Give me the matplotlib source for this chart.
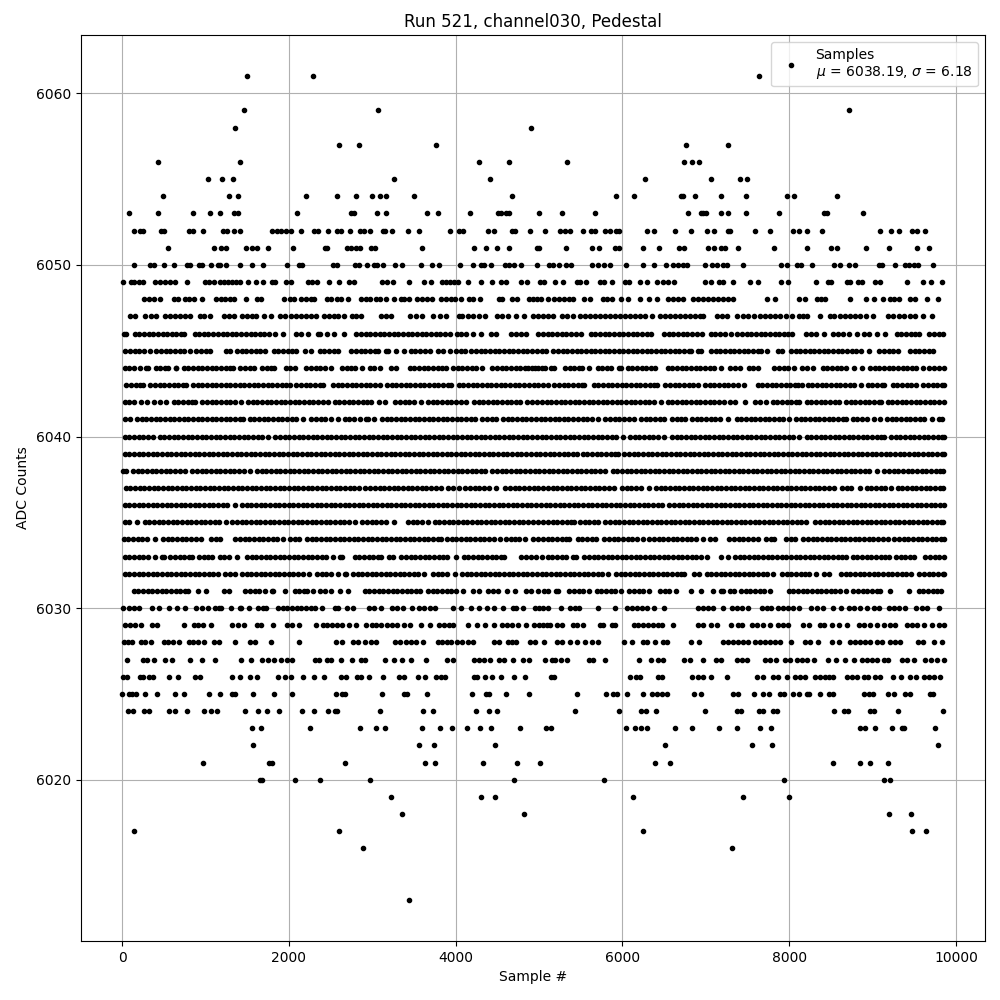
import numpy as np
import matplotlib
matplotlib.use("Agg")
import matplotlib.pyplot as plt

# sample positions, one list per ADC level
X_6061 = [1496, 2288, 7644]
X_6059 = [1460, 3068, 8712]
X_6058 = [1352, 4904]
X_6057 = [2600, 2840, 3764, 6768, 7272]
X_6056 = [428, 1412, 4280, 4640, 5340, 6744, 6832, 6924]
X_6055 = [1028, 1196, 1328, 3260, 4412, 6276, 7068, 7416, 7500]
X_6054 = [488, 1280, 1388, 2204, 2580, 2808, 2996, 3096, 3164, 3500, 4676, 5928, 6144, 6700, 6732, 6876, 7188, 7488, 7980, 8064, 8568]
X_6053 = [80, 428, 848, 1052, 1172, 1348, 1388, 2096, 2740, 2780, 3056, 3164, 3656, 3788, 4172, 4508, 4540, 4604, 4636, 5004, 5280, 5676, 6792, 6940, 6972, 7004, 7188, 7272, 7488, 7884, 8420, 8452, 8880]
X_6052 = [140, 212, 252, 468, 508, 800, 848, 968, 1208, 1260, 1340, 1412, 1796, 1860, 1908, 1960, 2024, 2144, 2300, 2348, 2468, 2580, 2620, 2732, 2852, 2900, 2972, 3132, 3152, 3236, 3428, 3560, 3932, 4044, 4084, 4388, 4460, 4680, 4716, 4892, 5076, 5256, 5308, 5376, 5532, 5628, 5672, 5796, 5852, 5924, 5964, 6300, 6384, 6636, 6828, 7020, 7104, 7272, 7296, 7596, 7776, 8052, 8124, 8220, 8388, 9084, 9216, 9312, 9468, 9532, 9624]
X_6051 = [548, 1100, 1184, 1244, 1484, 1556, 1616, 1748, 2048, 2432, 2452, 2696, 2744, 2804, 2852, 2984, 3028, 3596, 4220, 4364, 4496, 4640, 4972, 5004, 5328, 5640, 5724, 5916, 5956, 6252, 6444, 6684, 6744, 7024, 7104, 7188, 7236, 7392, 7824, 8220, 8496, 8568, 8916, 9192, 9528, 9672]
X_6050 = [140, 332, 380, 500, 620, 780, 810, 920, 960, 1072, 1148, 1180, 1252, 1412, 1556, 1692, 1976, 2120, 2156, 2528, 2572, 2792, 2840, 2936, 3020, 3052, 3124, 3268, 3356, 3584, 3716, 3800, 4052, 4208, 4300, 4340, 4424, 4592, 4640, 4700, 4788, 4980, 5124, 5164, 5244, 5324, 5388, 5640, 5712, 5780, 5852, 6048, 6244, 6384, 6520, 6612, 6672, 6732, 6780, 6992, 7072, 7132, 7212, 7260, 7452, 7908, 7980, 8100, 8148, 8272, 8532, 8604, 8712, 8784, 9072, 9112, 9264, 9384, 9432, 9492, 9540, 9720]
X_6049 = [8, 108, 148, 200, 248, 400, 452, 520, 572, 640, 776, 992, 1040, 1100, 1172, 1220, 1268, 1320, 1372, 1420, 1508, 1604, 1684, 1796, 1836, 1960, 2020, 2228, 2276, 2332, 2480, 2600, 2720, 2780, 3116, 3180, 3248, 3440, 3620, 3704, 3836, 3884, 3932, 3980, 4028, 4152, 4304, 4432, 4548, 4600, 4784, 4852, 5012, 5064, 5196, 5292, 5460, 5492, 5568, 5732, 5780, 5880, 6036, 6084, 6216, 6300, 6420, 6484, 6552, 6624, 6996, 7068, 7164, 7212, 7332, 7536, 7632, 7908, 7992, 8316, 8464, 8500, 8692, 8732, 8820, 8876, 9024, 9092, 9412, 9604, 9696, 9828]
X_6048 = [260, 320, 380, 460, 620, 672, 760, 808, 868, 960, 1132, 1188, 1240, 1292, 1348, 1484, 1620, 1660, 1940, 2008, 2060, 2148, 2200, 2260, 2300, 2460, 2508, 2572, 2620, 2708, 2860, 2920, 2972, 3040, 3092, 3160, 3260, 3340, 3380, 3440, 3540, 3600, 3660, 3716, 3820, 3880, 3940, 3992, 4068, 4160, 4208, 4292, 4520, 4560, 4680, 4740, 4880, 4924, 4972, 5020, 5112, 5180, 5244, 5300, 5364, 5404, 5544, 5612, 5764, 5820, 5872, 5980, 6072, 6212, 6324, 6420, 6552, 6612, 6672, 6724, 6844, 6912, 6972, 7032, 7092, 7152, 7212, 7272, 7324, 7740, 7832, 8124, 8196, 8332, 8380, 8432, 8732, 8916, 9020, 9120, 9204, 9252, 9312, 9452, 9512, 9648, 9780]
X_6047 = [100, 160, 272, 352, 408, 520, 580, 640, 700, 760, 820, 932, 988, 1060, 1220, 1280, 1340, 1440, 1500, 1560, 1608, 1700, 1780, 1892, 1948, 2020, 2080, 2140, 2200, 2260, 2320, 2420, 2480, 2540, 2592, 2660, 2760, 2808, 2868, 3100, 3160, 3220, 3452, 3524, 3600, 3728, 3812, 3884, 4040, 4080, 4148, 4212, 4280, 4352, 4500, 4560, 4628, 4720, 4820, 4932, 4992, 5052, 5112, 5172, 5272, 5332, 5412, 5492, 5552, 5612, 5672, 5732, 5792, 5852, 5912, 5972, 6032, 6092, 6152, 6212, 6272, 6352, 6452, 6512, 6572, 6632, 6692, 6752, 6812, 6872, 6932, 6972, 7132, 7192, 7252, 7380, 7444, 7512, 7580, 7652, 7712, 7772, 7832, 7892, 7964, 8032, 8124, 8172, 8220, 8364, 8484, 8540, 8612, 8672, 8732, 8792, 8852, 8924, 9004, 9180, 9244, 9312, 9372, 9444, 9512, 9604, 9712]
X_6046 = [20, 50, 150, 205, 262, 318, 372, 430, 485, 540, 598, 652, 708, 740, 870, 925, 982, 1036, 1092, 1148, 1205, 1260, 1315, 1372, 1428, 1482, 1540, 1596, 1650, 1705, 1762, 1830, 1928, 2090, 2148, 2230, 2350, 2370, 2460, 2540, 2660, 2810, 2866, 2922, 2978, 3034, 3090, 3146, 3200, 3258, 3312, 3368, 3424, 3480, 3536, 3592, 3648, 3704, 3760, 3816, 3872, 3930, 4020, 4060, 4120, 4210, 4300, 4430, 4490, 4670, 4726, 4782, 4840, 4990, 5046, 5102, 5158, 5214, 5270, 5326, 5382, 5438, 5500, 5620, 5676, 5732, 5788, 5844, 5900, 5956, 6012, 6068, 6124, 6180, 6236, 6292, 6340, 6500, 6556, 6612, 6668, 6724, 6780, 6836, 6892, 6960, 7060, 7116, 7172, 7228, 7300, 7380, 7436, 7492, 7548, 7604, 7660, 7716, 7772, 7828, 7884, 7940, 7990, 8040, 8200, 8260, 8320, 8412, 8520, 8580, 8640, 8720, 8812, 8900, 8960, 9052, 9152, 9290, 9346, 9402, 9458, 9514, 9560, 9680, 9736, 9792, 9850]
X_6045 = [40, 96, 152, 208, 262, 332, 410, 466, 522, 578, 634, 690, 746, 810, 890, 946, 1002, 1050, 1250, 1290, 1378, 1434, 1490, 1546, 1602, 1658, 1710, 1818, 1874, 1930, 1986, 2042, 2090, 2190, 2270, 2370, 2426, 2482, 2538, 2590, 2750, 2806, 2862, 2918, 2974, 3030, 3070, 3170, 3190, 3280, 3380, 3462, 3518, 3574, 3630, 3690, 3790, 3846, 3930, 4010, 4066, 4110, 4190, 4246, 4302, 4358, 4414, 4470, 4526, 4582, 4638, 4694, 4750, 4806, 4862, 4918, 4974, 5030, 5086, 5170, 5226, 5282, 5338, 5394, 5450, 5506, 5562, 5618, 5674, 5730, 5786, 5842, 5898, 5954, 6010, 6066, 6122, 6178, 6234, 6290, 6346, 6402, 6458, 6514, 6570, 6626, 6682, 6738, 6794, 6822, 6910, 6942, 7062, 7118, 7174, 7230, 7286, 7342, 7398, 7454, 7510, 7566, 7622, 7662, 7732, 7862, 7910, 8022, 8078, 8134, 8190, 8246, 8302, 8358, 8414, 8470, 8526, 8582, 8638, 8694, 8750, 8806, 8862, 8962, 9082, 9138, 9194, 9250, 9302, 9450, 9506, 9562, 9618, 9674, 9722]
X_6044 = [30, 86, 142, 210, 290, 310, 402, 458, 514, 550, 642, 650, 738, 794, 850, 906, 962, 1018, 1074, 1130, 1186, 1242, 1298, 1330, 1418, 1474, 1530, 1582, 1678, 1734, 1790, 1818, 1962, 2018, 2070, 2210, 2266, 2322, 2378, 2434, 2502, 2638, 2694, 2750, 2790, 2880, 2970, 3026, 3090, 3230, 3290, 3450, 3506, 3562, 3618, 3674, 3730, 3786, 3842, 3890, 3970, 4026, 4082, 4138, 4194, 4250, 4318, 4442, 4498, 4554, 4610, 4666, 4722, 4778, 4834, 4870, 4912, 4952, 4992, 5032, 5072, 5142, 5174, 5310, 5366, 5422, 5478, 5510, 5596, 5702, 5758, 5814, 5862, 5954, 5982, 6062, 6118, 6174, 6230, 6286, 6342, 6394, 6542, 6598, 6654, 6710, 6766, 6822, 6878, 6934, 6990, 7046, 7102, 7182, 7294, 7350, 7410, 7514, 7570, 7622, 7822, 7878, 7934, 7990, 8062, 8154, 8210, 8290, 8402, 8458, 8514, 8570, 8626, 8682, 8774, 8872, 8970, 9026, 9082, 9138, 9194, 9250, 9306, 9362, 9418, 9474, 9522, 9604, 9682, 9738, 9794, 9854]
X_6043 = [50, 106, 162, 218, 250, 338, 394, 450, 506, 562, 618, 674, 730, 770, 850, 906, 962, 1018, 1074, 1130, 1186, 1242, 1298, 1354, 1410, 1466, 1522, 1578, 1634, 1690, 1746, 1802, 1858, 1914, 1970, 2010, 2090, 2146, 2202, 2258, 2314, 2370, 2410, 2530, 2586, 2642, 2698, 2754, 2810, 2866, 2922, 2978, 3034, 3090, 3178, 3234, 3290, 3346, 3402, 3458, 3514, 3570, 3626, 3682, 3738, 3794, 3850, 3906, 3950, 4038, 4094, 4150, 4206, 4262, 4318, 4374, 4430, 4486, 4542, 4598, 4654, 4710, 4766, 4822, 4878, 4934, 4990, 5050, 5102, 5182, 5238, 5294, 5350, 5406, 5462, 5518, 5542, 5654, 5710, 5766, 5822, 5878, 5934, 5990, 6046, 6102, 6158, 6214, 6270, 6326, 6382, 6414, 6514, 6570, 6626, 6682, 6738, 6794, 6850, 6902, 6990, 7046, 7102, 7158, 7214, 7270, 7326, 7382, 7454, 7622, 7678, 7734, 7790, 7846, 7902, 7958, 8014, 8070, 8102, 8152, 8222, 8278, 8334, 8390, 8446, 8502, 8558, 8614, 8670, 8726, 8782, 8862, 8942, 8998, 9054, 9110, 9142, 9242, 9298, 9354, 9410, 9466, 9522, 9610, 9666, 9722, 9778, 9834, 9856]
X_6042 = [30, 86, 142, 230, 302, 382, 458, 530, 618, 674, 730, 786, 842, 870, 962, 1018, 1074, 1130, 1186, 1242, 1298, 1354, 1422, 1510, 1566, 1622, 1678, 1734, 1790, 1846, 1902, 1958, 2014, 2070, 2126, 2182, 2238, 2294, 2350, 2406, 2470, 2550, 2606, 2662, 2718, 2774, 2830, 2886, 2942, 2990, 3078, 3150, 3278, 3334, 3390, 3446, 3502, 3582, 3670, 3726, 3782, 3838, 3894, 3950, 4006, 4062, 4122, 4222, 4278, 4334, 4390, 4446, 4502, 4558, 4614, 4670, 4726, 4778, 4862, 4922, 4978, 5034, 5090, 5146, 5202, 5258, 5314, 5370, 5426, 5482, 5538, 5594, 5650, 5706, 5762, 5818, 5874, 5930, 5986, 6042, 6098, 6154, 6210, 6266, 6322, 6378, 6462, 6542, 6598, 6654, 6710, 6766, 6822, 6878, 6934, 6990, 7046, 7102, 7158, 7214, 7290, 7350, 7476, 7594, 7650, 7722, 7802, 7858, 7914, 7970, 8026, 8082, 8122, 8210, 8266, 8322, 8378, 8434, 8490, 8546, 8602, 8682, 8738, 8794, 8850, 8906, 8962, 9018, 9074, 9102, 9182, 9238, 9294, 9350, 9406, 9462, 9518, 9574, 9630, 9686, 9742, 9798, 9854]
X_6041 = [30, 90, 178, 234, 290, 346, 402, 458, 514, 570, 626, 682, 738, 794, 850, 906, 962, 1018, 1074, 1130, 1186, 1242, 1298, 1354, 1410, 1450, 1530, 1586, 1642, 1698, 1754, 1810, 1866, 1922, 1978, 2034, 2090, 2170, 2270, 2326, 2382, 2438, 2510, 2588, 2670, 2726, 2782, 2850, 2930, 2950, 3020, 3118, 3174, 3230, 3286, 3342, 3398, 3454, 3510, 3566, 3622, 3678, 3734, 3790, 3846, 3902, 3958, 4014, 4070, 4126, 4182, 4230, 4322, 4378, 4434, 4490, 4570, 4626, 4682, 4738, 4794, 4850, 4906, 4962, 5018, 5074, 5130, 5186, 5242, 5298, 5342, 5410, 5466, 5522, 5578, 5634, 5710, 5794, 5850, 5906, 5962, 6018, 6074, 6142, 6222, 6278, 6334, 6390, 6446, 6494, 6594, 6650, 6706, 6754, 6834, 6890, 6946, 7002, 7058, 7114, 7170, 7262, 7370, 7426, 7482, 7538, 7594, 7650, 7706, 7762, 7818, 7874, 7930, 7994, 8082, 8138, 8194, 8250, 8306, 8362, 8418, 8474, 8530, 8586, 8642, 8682, 8762, 8818, 8874, 8930, 9014, 9090, 9174, 9230, 9286, 9342, 9398, 9454, 9510, 9566, 9622, 9710, 9802, 9830]
X_6040 = [30, 86, 142, 198, 254, 310, 370, 450, 506, 562, 618, 674, 730, 786, 842, 898, 954, 1010, 1066, 1122, 1178, 1234, 1290, 1346, 1402, 1458, 1514, 1570, 1626, 1682, 1750, 1838, 1894, 1950, 2006, 2062, 2118, 2174, 2230, 2286, 2342, 2398, 2454, 2510, 2566, 2622, 2678, 2734, 2790, 2846, 2902, 2958, 3014, 3070, 3126, 3182, 3238, 3294, 3350, 3406, 3462, 3518, 3574, 3630, 3686, 3742, 3798, 3854, 3910, 3966, 4022, 4078, 4134, 4190, 4246, 4302, 4358, 4414, 4470, 4526, 4582, 4638, 4694, 4750, 4806, 4862, 4918, 4974, 5030, 5086, 5142, 5198, 5254, 5310, 5366, 5422, 5478, 5534, 5590, 5646, 5702, 5758, 5814, 5870, 5926, 6002, 6090, 6146, 6202, 6258, 6314, 6370, 6426, 6502, 6594, 6650, 6706, 6762, 6818, 6874, 6930, 6986, 7042, 7098, 7154, 7210, 7266, 7322, 7378, 7434, 7490, 7546, 7602, 7658, 7714, 7770, 7826, 7882, 7938, 7994, 8050, 8122, 8210, 8266, 8322, 8378, 8434, 8490, 8546, 8602, 8658, 8714, 8770, 8826, 8882, 8938, 8994, 9050, 9106, 9142, 9222, 9278, 9334, 9390, 9446, 9502, 9558, 9614, 9670, 9726, 9782, 9838, 9856]
X_6039 = [30, 86, 142, 198, 254, 310, 366, 422, 478, 534, 590, 646, 702, 758, 814, 870, 926, 982, 1038, 1094, 1150, 1206, 1262, 1318, 1374, 1430, 1486, 1542, 1598, 1654, 1710, 1766, 1822, 1878, 1934, 1990, 2046, 2102, 2158, 2214, 2270, 2326, 2382, 2438, 2494, 2550, 2606, 2662, 2718, 2774, 2830, 2886, 2942, 2998, 3054, 3110, 3166, 3222, 3278, 3334, 3390, 3446, 3502, 3558, 3614, 3670, 3726, 3782, 3838, 3894, 3950, 4006, 4062, 4118, 4174, 4230, 4286, 4342, 4398, 4454, 4510, 4566, 4622, 4678, 4734, 4790, 4846, 4902, 4958, 5014, 5070, 5126, 5182, 5238, 5294, 5350, 5406, 5454, 5522, 5578, 5634, 5690, 5746, 5802, 5858, 5914, 5942, 6022, 6078, 6134, 6190, 6246, 6302, 6358, 6414, 6470, 6526, 6582, 6638, 6694, 6750, 6806, 6862, 6918, 6974, 7030, 7086, 7142, 7198, 7254, 7310, 7366, 7422, 7478, 7534, 7590, 7646, 7702, 7758, 7814, 7870, 7926, 7982, 8038, 8094, 8150, 8206, 8262, 8318, 8374, 8430, 8486, 8542, 8598, 8654, 8710, 8766, 8822, 8878, 8934, 8990, 9046, 9102, 9158, 9214, 9270, 9326, 9382, 9438, 9494, 9550, 9606, 9662, 9718, 9774, 9830, 9856]
X_6038 = [10, 50, 130, 186, 242, 298, 354, 410, 466, 522, 578, 634, 690, 758, 842, 898, 954, 1010, 1066, 1122, 1178, 1234, 1290, 1346, 1402, 1458, 1530, 1618, 1674, 1730, 1786, 1842, 1898, 1954, 2010, 2066, 2122, 2178, 2234, 2290, 2346, 2402, 2458, 2514, 2570, 2626, 2682, 2738, 2794, 2850, 2906, 2962, 3018, 3074, 3130, 3186, 3242, 3298, 3354, 3410, 3466, 3522, 3578, 3634, 3690, 3746, 3802, 3858, 3914, 3970, 4026, 4082, 4138, 4194, 4250, 4306, 4350, 4442, 4498, 4554, 4610, 4666, 4722, 4778, 4834, 4890, 4946, 5002, 5058, 5114, 5170, 5226, 5282, 5338, 5394, 5450, 5506, 5562, 5618, 5674, 5730, 5790, 5882, 5938, 5994, 6050, 6106, 6162, 6218, 6274, 6330, 6386, 6442, 6498, 6554, 6610, 6666, 6722, 6778, 6834, 6890, 6946, 7002, 7058, 7114, 7170, 7226, 7282, 7338, 7394, 7450, 7506, 7562, 7618, 7674, 7730, 7786, 7842, 7898, 7954, 8010, 8066, 8122, 8178, 8234, 8290, 8346, 8402, 8458, 8514, 8570, 8626, 8682, 8738, 8794, 8850, 8906, 8962, 9050, 9142, 9198, 9254, 9310, 9366, 9422, 9478, 9534, 9590, 9646, 9702, 9758, 9814, 9850]
X_6037 = [42, 98, 154, 210, 266, 322, 378, 434, 490, 546, 602, 658, 714, 770, 826, 882, 938, 994, 1050, 1106, 1162, 1218, 1274, 1330, 1386, 1442, 1498, 1554, 1610, 1666, 1722, 1778, 1834, 1890, 1946, 2002, 2058, 2114, 2170, 2226, 2282, 2338, 2394, 2450, 2506, 2562, 2618, 2674, 2730, 2786, 2842, 2910, 2978, 3034, 3090, 3146, 3202, 3258, 3314, 3370, 3426, 3482, 3538, 3594, 3650, 3706, 3762, 3830, 3910, 3966, 4038, 4118, 4174, 4230, 4286, 4342, 4398, 4490, 4598, 4654, 4710, 4766, 4822, 4878, 4934, 4990, 5050, 5106, 5162, 5218, 5274, 5330, 5386, 5442, 5498, 5554, 5610, 5666, 5722, 5778, 5834, 5902, 5994, 6050, 6106, 6162, 6218, 6314, 6402, 6458, 6514, 6570, 6626, 6682, 6738, 6794, 6850, 6906, 6962, 7018, 7074, 7130, 7186, 7242, 7298, 7354, 7410, 7466, 7522, 7578, 7634, 7690, 7746, 7802, 7858, 7914, 7970, 8026, 8082, 8138, 8194, 8250, 8306, 8362, 8418, 8474, 8534, 8634, 8690, 8746, 8846, 8930, 8986, 9042, 9098, 9154, 9222, 9302, 9358, 9414, 9470, 9526, 9582, 9638, 9694, 9750, 9806, 9842]
X_6036 = [30, 86, 142, 198, 254, 310, 366, 422, 478, 534, 590, 646, 702, 758, 814, 870, 926, 982, 1038, 1094, 1150, 1206, 1262, 1350, 1438, 1494, 1550, 1606, 1662, 1718, 1774, 1830, 1886, 1942, 1998, 2054, 2110, 2166, 2222, 2278, 2334, 2390, 2446, 2502, 2558, 2614, 2670, 2726, 2782, 2838, 2894, 2950, 3006, 3062, 3118, 3174, 3230, 3286, 3342, 3398, 3454, 3510, 3566, 3622, 3678, 3734, 3790, 3846, 3902, 3958, 4014, 4070, 4126, 4182, 4238, 4294, 4350, 4406, 4462, 4518, 4574, 4630, 4686, 4742, 4798, 4854, 4910, 4966, 5022, 5078, 5134, 5190, 5246, 5302, 5358, 5414, 5470, 5526, 5582, 5638, 5694, 5750, 5806, 5862, 5918, 5974, 6030, 6086, 6142, 6198, 6254, 6310, 6366, 6422, 6474, 6562, 6618, 6674, 6730, 6786, 6842, 6898, 6954, 7010, 7066, 7122, 7178, 7234, 7290, 7346, 7402, 7458, 7514, 7570, 7626, 7682, 7738, 7794, 7850, 7906, 7962, 8018, 8074, 8130, 8186, 8242, 8298, 8354, 8410, 8466, 8522, 8578, 8634, 8690, 8746, 8802, 8858, 8914, 8970, 9026, 9082, 9138, 9194, 9250, 9306, 9362, 9418, 9474, 9530, 9586, 9642, 9698, 9754, 9810, 9854]
X_6035 = [30, 86, 178, 270, 326, 382, 438, 494, 550, 606, 662, 718, 774, 830, 886, 942, 998, 1054, 1110, 1166, 1250, 1322, 1378, 1434, 1490, 1546, 1602, 1658, 1714, 1770, 1826, 1882, 1938, 1994, 2050, 2106, 2162, 2218, 2274, 2330, 2386, 2442, 2498, 2554, 2610, 2666, 2722, 2790, 2882, 2938, 2994, 3050, 3106, 3162, 3262, 3430, 3486, 3542, 3598, 3670, 3750, 3806, 3862, 3918, 3974, 4030, 4086, 4142, 4198, 4254, 4310, 4366, 4422, 4478, 4534, 4590, 4646, 4702, 4758, 4814, 4870, 4926, 4982, 5050, 5106, 5162, 5218, 5274, 5330, 5386, 5414, 5490, 5546, 5602, 5658, 5710, 5794, 5850, 5906, 5962, 6018, 6074, 6130, 6186, 6242, 6298, 6354, 6410, 6466, 6522, 6578, 6634, 6690, 6746, 6802, 6858, 6914, 6970, 7026, 7082, 7138, 7194, 7250, 7306, 7362, 7418, 7474, 7530, 7586, 7642, 7698, 7754, 7810, 7866, 7922, 7978, 8034, 8090, 8146, 8202, 8312, 8370, 8426, 8482, 8538, 8594, 8650, 8706, 8762, 8818, 8874, 8930, 8986, 9042, 9098, 9154, 9210, 9266, 9322, 9378, 9434, 9490, 9546, 9602, 9658, 9714, 9770, 9826, 9850]
X_6034 = [20, 76, 132, 188, 244, 300, 390, 490, 546, 602, 658, 714, 770, 826, 882, 950, 1068, 1124, 1180, 1358, 1414, 1470, 1526, 1582, 1638, 1694, 1750, 1806, 1862, 1930, 2018, 2074, 2122, 2218, 2274, 2330, 2386, 2442, 2498, 2554, 2610, 2666, 2722, 2778, 2834, 2890, 2946, 3002, 3058, 3114, 3170, 3226, 3282, 3338, 3394, 3450, 3506, 3562, 3618, 3674, 3730, 3786, 3822, 3898, 3954, 4010, 4066, 4122, 4178, 4234, 4290, 4346, 4402, 4458, 4538, 4600, 4660, 4710, 4766, 4830, 4932, 4992, 5048, 5104, 5160, 5216, 5272, 5328, 5362, 5462, 5518, 5574, 5630, 5682, 5782, 5838, 5894, 5950, 6006, 6062, 6118, 6174, 6242, 6322, 6378, 6434, 6490, 6546, 6602, 6658, 6714, 6770, 6826, 6882, 6962, 7050, 7114, 7282, 7338, 7394, 7450, 7506, 7562, 7632, 7722, 7778, 7822, 7962, 8018, 8074, 8170, 8226, 8282, 8338, 8394, 8450, 8506, 8562, 8618, 8674, 8730, 8786, 8842, 8898, 8954, 9010, 9066, 9122, 9182, 9262, 9318, 9374, 9430, 9486, 9542, 9598, 9654, 9710, 9766, 9822, 9854]
X_6033 = [30, 86, 142, 198, 254, 310, 390, 478, 498, 578, 634, 690, 746, 802, 842, 922, 978, 1034, 1082, 1170, 1226, 1282, 1378, 1498, 1554, 1610, 1666, 1722, 1778, 1834, 1890, 1946, 2002, 2058, 2114, 2170, 2226, 2282, 2338, 2394, 2450, 2530, 2618, 2642, 2790, 2846, 2902, 2958, 3014, 3070, 3102, 3198, 3250, 3350, 3406, 3462, 3518, 3574, 3630, 3686, 3742, 3798, 3854, 3898, 4000, 4098, 4154, 4210, 4266, 4322, 4378, 4434, 4490, 4546, 4582, 4790, 4846, 4902, 4958, 5030, 5102, 5158, 5214, 5270, 5322, 5402, 5442, 5542, 5598, 5654, 5710, 5766, 5822, 5878, 5934, 5990, 6046, 6102, 6158, 6214, 6270, 6326, 6382, 6438, 6494, 6550, 6606, 6662, 6718, 6774, 6830, 6886, 6942, 7020, 7182, 7262, 7350, 7406, 7462, 7518, 7574, 7630, 7686, 7742, 7798, 7854, 7910, 7966, 8022, 8078, 8134, 8190, 8246, 8302, 8358, 8414, 8470, 8526, 8582, 8638, 8682, 8762, 8818, 8874, 8930, 8986, 9042, 9098, 9154, 9202, 9282, 9338, 9394, 9450, 9502, 9634, 9690, 9746, 9802, 9854]
X_6032 = [30, 86, 142, 198, 254, 310, 366, 422, 478, 534, 590, 646, 702, 758, 814, 870, 926, 982, 1038, 1094, 1150, 1230, 1290, 1350, 1438, 1494, 1550, 1606, 1662, 1718, 1774, 1830, 1886, 1942, 1998, 2054, 2110, 2166, 2238, 2338, 2394, 2450, 2506, 2590, 2670, 2690, 2770, 2826, 2882, 2938, 2994, 3050, 3106, 3162, 3218, 3274, 3330, 3386, 3442, 3498, 3554, 3622, 3730, 3786, 3842, 3898, 3990, 4078, 4134, 4190, 4246, 4302, 4358, 4414, 4470, 4526, 4582, 4638, 4694, 4750, 4806, 4862, 4918, 4974, 5030, 5086, 5142, 5198, 5254, 5310, 5366, 5422, 5478, 5534, 5590, 5646, 5702, 5758, 5822, 5922, 5978, 6034, 6090, 6146, 6202, 6258, 6314, 6370, 6426, 6482, 6538, 6594, 6650, 6706, 6734, 6854, 6914, 7010, 7066, 7122, 7178, 7234, 7290, 7346, 7402, 7458, 7514, 7570, 7626, 7682, 7738, 7802, 7914, 7970, 8026, 8082, 8138, 8194, 8242, 8320, 8422, 8482, 8622, 8678, 8734, 8790, 8846, 8902, 8958, 9014, 9070, 9126, 9182, 9238, 9294, 9350, 9406, 9462, 9562, 9618, 9674, 9730, 9786, 9842, 9856]
X_6031 = [138, 194, 250, 306, 362, 418, 474, 530, 586, 642, 698, 754, 790, 908, 1012, 1220, 1284, 1478, 1534, 1590, 1646, 1710, 1802, 1810, 1950, 2070, 2126, 2182, 2222, 2292, 2378, 2434, 2510, 2610, 2710, 2910, 2966, 3022, 3078, 3134, 3190, 3246, 3302, 3358, 3414, 3470, 3526, 3570, 3670, 3726, 3782, 3838, 3894, 3950, 4006, 4090, 4210, 4278, 4390, 4450, 4510, 4620, 4708, 4840, 4900, 4990, 5062, 5102, 5202, 5222, 5362, 5418, 5474, 5530, 5594, 5690, 5746, 5802, 5858, 5914, 5982, 6082, 6138, 6194, 6250, 6322, 6450, 6506, 6562, 6642, 6828, 6942, 7092, 7182, 7202, 7290, 7334, 7422, 7478, 7534, 7590, 7646, 7702, 7774, 7994, 8050, 8106, 8162, 8218, 8274, 8330, 8386, 8442, 8498, 8554, 8610, 8682, 8770, 8826, 8882, 8938, 8994, 9050, 9094, 9212, 9432, 9554, 9610, 9666, 9722, 9778, 9822]
X_6030 = [8, 80, 140, 200, 360, 440, 560, 656, 752, 892, 960, 1032, 1110, 1166, 1182, 1308, 1418, 1430, 1524, 1630, 1686, 1722, 1870, 1926, 1982, 2038, 2094, 2150, 2206, 2262, 2310, 2392, 2550, 2590, 2692, 2768, 2964, 3020, 3104, 3232, 3300, 3372, 3480, 3560, 3620, 3692, 3748, 3968, 4060, 4190, 4280, 4380, 4460, 4570, 4690, 4730, 4812, 4952, 5004, 5052, 5112, 5260, 5372, 5432, 5484, 5712, 5916, 6052, 6112, 6172, 6232, 6292, 6380, 6504, 6912, 6972, 7032, 7092, 7212, 7312, 7372, 7432, 7504, 7672, 7732, 7780, 7872, 7932, 7992, 8052, 8124, 8264, 8332, 8400, 8520, 8620, 8712, 8772, 8852, 8932, 9012, 9072, 9192, 9252, 9312, 9392, 9524, 9592, 9652, 9796]
X_6029 = [40, 100, 160, 232, 360, 420, 740, 860, 908, 968, 1068, 1316, 1388, 1460, 1620, 1660, 1808, 1980, 2040, 2120, 2320, 2408, 2460, 2520, 2580, 2640, 2720, 2808, 2928, 3000, 3048, 3108, 3172, 3240, 3300, 3380, 3452, 3588, 3692, 3800, 3860, 3920, 3972, 4148, 4260, 4352, 4460, 4560, 4620, 4680, 4748, 4844, 4940, 5000, 5052, 5092, 5132, 5212, 5272, 5412, 5452, 5532, 5732, 5772, 5872, 5912, 6140, 6192, 6252, 6312, 6364, 6432, 6472, 6612, 6912, 6972, 7060, 7140, 7308, 7392, 7432, 7552, 7612, 7692, 7772, 7872, 7932, 7992, 8172, 8244, 8372, 8420, 8512, 8592, 8692, 8832, 8892, 8972, 9052, 9132, 9212, 9272, 9412, 9472, 9532, 9612, 9712, 9792, 9856]
X_6028 = [28, 68, 120, 228, 280, 348, 500, 548, 608, 688, 800, 852, 908, 980, 1100, 1160, 1352, 1532, 1588, 1784, 2120, 2564, 2640, 2764, 2828, 2916, 2980, 3040, 3272, 3332, 3400, 3460, 3520, 3608, 3788, 3840, 3900, 3948, 4020, 4080, 4148, 4212, 4460, 4520, 4628, 4680, 4728, 4892, 4948, 5060, 5212, 5272, 5372, 5452, 5552, 5632, 5712, 6024, 6112, 6244, 6292, 6396, 6484, 6532, 6824, 6920, 7212, 7272, 7332, 7392, 7452, 7512, 7592, 7652, 7712, 7772, 7832, 7892, 8020, 8192, 8252, 8340, 8512, 8592, 8732, 8792, 8852, 8912, 8972, 9052, 9112, 9212, 9272, 9332, 9540, 9604, 9740, 9832]
X_6027 = [60, 248, 300, 380, 512, 600, 812, 960, 1112, 1424, 1544, 1680, 1748, 1820, 1900, 1980, 2040, 2308, 2360, 2460, 2508, 2624, 2760, 2860, 2908, 3152, 3260, 3360, 3460, 3644, 3896, 3968, 4220, 4280, 4340, 4412, 4520, 4580, 4684, 4804, 4884, 5076, 5152, 5192, 5260, 5340, 5604, 5644, 5796, 6204, 6348, 6432, 6492, 6744, 6816, 6964, 7124, 7180, 7372, 7432, 7500, 7716, 7772, 7844, 7952, 8012, 8092, 8152, 8212, 8300, 8460, 8556, 8664, 8772, 8876, 8932, 8992, 9052, 9132, 9180, 9352, 9412, 9492, 9628, 9704, 9772, 9856]
X_6026 = [8, 60, 212, 248, 320, 372, 568, 672, 872, 940, 1316, 1420, 1532, 1612, 1868, 1952, 2024, 2172, 2300, 2420, 2628, 2680, 2812, 2860, 2960, 3128, 3320, 3380, 3548, 3632, 3768, 3820, 3868, 4220, 4260, 4352, 4440, 4548, 4704, 4832, 5140, 5180, 6092, 6164, 6212, 6432, 6480, 6840, 6912, 6972, 7068, 7260, 7612, 7692, 7804, 7872, 7980, 8072, 8132, 8192, 8312, 8372, 8432, 8480, 8524, 8692, 8752, 8812, 8892, 8944, 9032, 9092, 9240, 9336, 9444, 9524, 9620, 9672, 9732, 9812]
X_6025 = [0, 80, 120, 168, 280, 424, 632, 740, 1040, 1172, 1320, 1360, 1572, 1820, 2036, 2564, 2640, 2672, 3116, 3380, 3420, 3656, 4196, 4360, 4400, 4604, 4880, 5460, 5808, 5884, 5940, 6060, 6252, 6352, 6412, 6472, 6532, 6864, 6948, 7332, 7392, 7584, 7692, 7764, 7892, 7940, 8052, 8124, 8212, 8244, 8364, 8472, 8524, 8892, 8952, 9004, 9180, 9252, 9392, 9452, 9684, 9724]
X_6024 = [68, 132, 268, 320, 560, 632, 776, 980, 1064, 1136, 1472, 1628, 1736, 1880, 2156, 2300, 2468, 2548, 2580, 3092, 3608, 3728, 4244, 4400, 4496, 5436, 5964, 6228, 6288, 6408, 6996, 7372, 7428, 7644, 7692, 7812, 7860, 8532, 8652, 8704, 8972, 9020, 9300, 9840]
X_6023 = [1556, 1664, 2252, 2852, 3044, 3152, 3596, 3812, 3956, 4136, 4292, 4424, 4772, 5088, 5148, 6048, 6156, 6228, 6300, 6636, 6840, 7164, 7380, 7656, 7788, 8844, 8904, 9024, 9228, 9352, 9380, 9744]
X_6022 = [1568, 3560, 3740, 4472, 6516, 7560, 7800, 9780]
X_6021 = [968, 1764, 1796, 2672, 3632, 3752, 4328, 4736, 5008, 6396, 6576, 8520, 8844, 8964, 9180]
X_6020 = [1648, 1680, 2072, 2372, 2972, 4700, 5784, 7944, 9132, 9204]
X_6019 = [3224, 4304, 4472, 6132, 7452, 8004]
X_6018 = [3356, 4820, 9192, 9456]
X_6017 = [140, 2600, 6252, 9468, 9636]
X_6016 = [2888, 7320]
X_6013 = [3440]

LEVELS = [6061, 6059, 6058, 6057, 6056, 6055, 6054, 6053, 6052, 6051, 6050, 6049, 6048, 6047,
          6046, 6045, 6044, 6043, 6042, 6041, 6040, 6039, 6038, 6037, 6036, 6035, 6034, 6033,
          6032, 6031, 6030, 6029, 6028, 6027, 6026, 6025, 6024, 6023, 6022, 6021, 6020, 6019,
          6018, 6017, 6016, 6013]
ROWS = [X_6061, X_6059, X_6058, X_6057, X_6056, X_6055, X_6054, X_6053, X_6052, X_6051, X_6050, X_6049, X_6048, X_6047,
        X_6046, X_6045, X_6044, X_6043, X_6042, X_6041, X_6040, X_6039, X_6038, X_6037, X_6036, X_6035, X_6034, X_6033,
        X_6032, X_6031, X_6030, X_6029, X_6028, X_6027, X_6026, X_6025, X_6024, X_6023, X_6022, X_6021, X_6020, X_6019,
        X_6018, X_6017, X_6016, X_6013]

MEAN = 6038.19
SIGMA = 6.18

x = np.concatenate([np.array(r, dtype=float) for r in ROWS])
y = np.concatenate([np.full(len(r), lv) for lv, r in zip(LEVELS, ROWS)])

fig, ax = plt.subplots(figsize=(10, 10), dpi=100)
ax.plot(x, y, "k.", label=f"Samples\n$\\mu$ = {MEAN:.2f}, $\\sigma$ = {SIGMA:.2f}")
ax.set_title("Run 521, channel030, Pedestal")
ax.set_xlabel("Sample #")
ax.set_ylabel("ADC Counts")
ax.grid(True)
ax.legend(loc="upper right")
# axes box as measured on the reference
fig.subplots_adjust(left=0.081, right=0.985, top=0.965, bottom=0.059)
fig.savefig("out.png", dpi=100)
